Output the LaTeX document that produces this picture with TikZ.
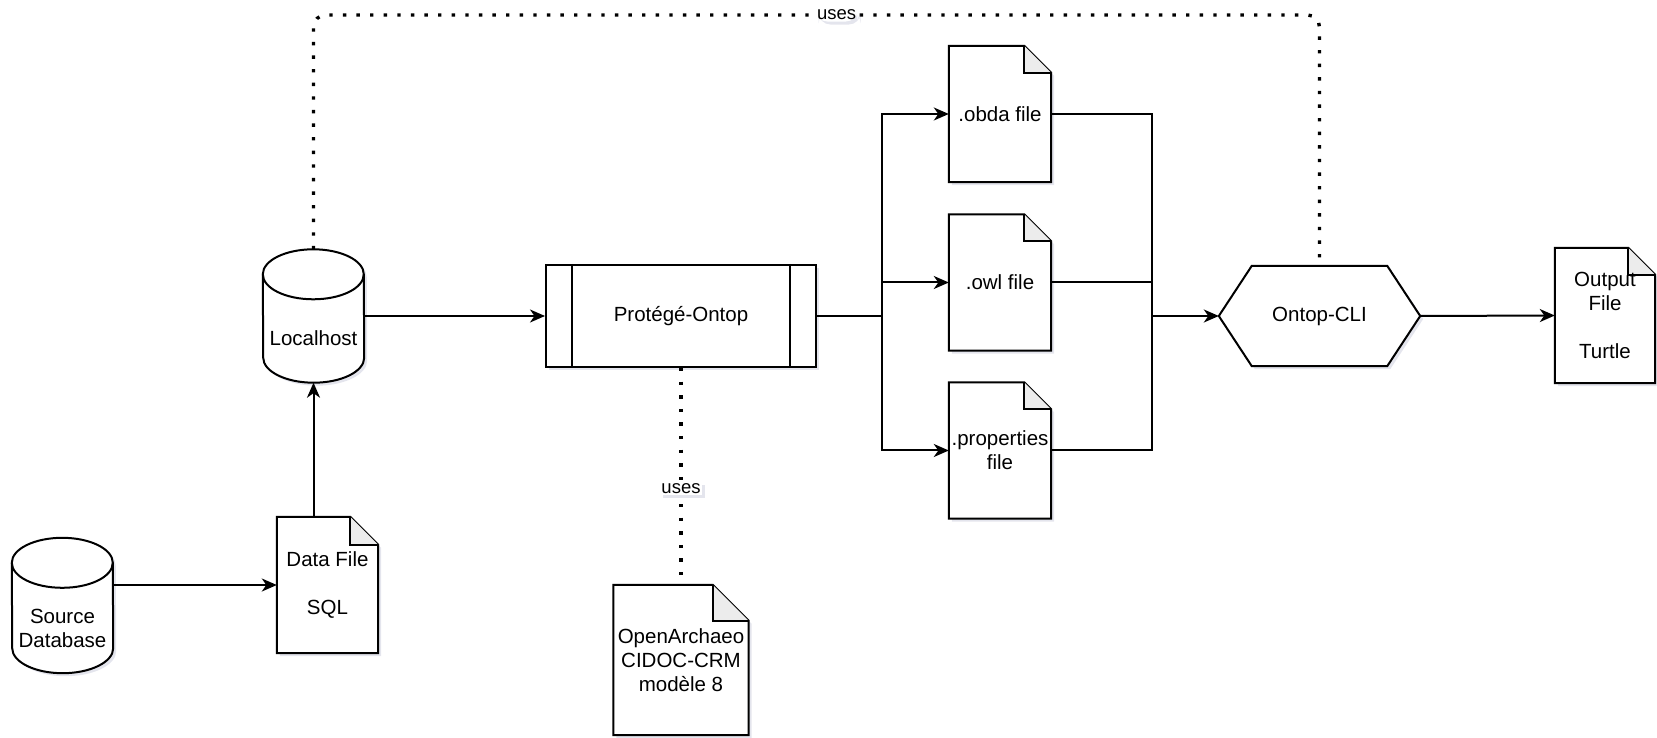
\documentclass[tikz,border=0pt]{standalone}
\usepackage{fontspec}
\setmainfont{Liberation Sans}
\usetikzlibrary{arrows.meta,shadows,backgrounds,calc}
\definecolor{shadowc}{RGB}{120,125,165}
\definecolor{foldc}{RGB}{236,236,236}
\tikzset{
  base/.style={inner sep=0pt, align=center, font=\fontsize{20.5}{24}\selectfont},
  box/.style 2 args={base, minimum width=#1pt, minimum height=#2pt},
  shadowed/.style={drop shadow={shadow xshift=3pt, shadow yshift=-3pt, opacity=0.2, fill=shadowc}},
  line/.style={line width=2pt, line join=miter},
  arr/.style={line, -{Stealth[length=15pt,width=13pt,inset=4.5pt]}},
  dotline/.style={line width=3.4pt, dash pattern=on 3.4pt off 10.2pt},
  lbl/.style={fill=white, inner sep=1.5pt, font=\fontsize{18.5}{21}\selectfont, shadowed},
}
\newcommand\DocShape[2]{%
  \draw[line, fill=white, shadowed] (#1.north west) -- ([xshift=-#2pt]#1.north east) -- ([yshift=-#2pt]#1.north east) -- (#1.south east) -- (#1.south west) -- cycle;
  \draw[line, fill=foldc] ([xshift=-#2pt]#1.north east) -- ([xshift=-#2pt,yshift=-#2pt]#1.north east) -- ([yshift=-#2pt]#1.north east);
}
\newcommand\CylShape[2]{%
  \draw[line, fill=white, shadowed] ([yshift=-25pt]#1.north west) arc[start angle=180,end angle=0,x radius=#2pt,y radius=25pt] -- ([yshift=25pt]#1.south east) arc[start angle=0,end angle=-180,x radius=#2pt,y radius=25pt] -- cycle;
  \draw[line] ([yshift=-25pt]#1.north west) arc[start angle=180,end angle=360,x radius=#2pt,y radius=25pt];
}
\begin{document}
\begin{tikzpicture}[x=1pt,y=1pt]
\useasboundingbox (0,0) rectangle (1657,737);
% nodes
\node[box={101}{135}] (src) at (62.5,131.5) {};
\node[base] (srclabel) at (62.5,109) {Source\\Database};
\node[box={101}{133}] (loc) at (313.5,421) {};
\node[base] (loclabel) at (313.5,399) {Localhost};
\node[box={101}{136}] (df) at (327.5,152) {Data File\\[24pt]SQL};
\node[box={270}{102}, line, draw, fill=white, shadowed] (prot) at (681,421) {Prot\'eg\'e-Ontop};
\draw[line] ([xshift=27pt]prot.north west) -- ([xshift=27pt]prot.south west);
\draw[line] ([xshift=-27pt]prot.north east) -- ([xshift=-27pt]prot.south east);
\node[box={135}{150}] (oa) at (681,77) {OpenArchaeo\\CIDOC-CRM\\mod\`ele 8};
\node[box={102}{136}] (obda) at (1000,623) {.obda file};
\node[box={102}{136}] (owl) at (1000,454.5) {.owl file};
\node[box={102}{136}] (props) at (1000,286.5) {.properties\\file};
\node[box={201}{100}] (cli) at (1319.5,421) {Ontop-CLI};
\node[box={100}{135}] (out) at (1605,421.5) {Output\\File\\[24pt]Turtle};
% shapes on background
\begin{scope}[on background layer]
  \CylShape{src}{50.5}
  \CylShape{loc}{50.5}
  \DocShape{df}{28}
  \DocShape{oa}{36}
  \DocShape{obda}{27}
  \DocShape{owl}{27}
  \DocShape{props}{27}
  \DocShape{out}{27}
  \draw[line, fill=white, shadowed] (cli.west) -- ([xshift=33pt]cli.north west) -- ([xshift=-33pt]cli.north east) -- (cli.east) -- ([xshift=-33pt]cli.south east) -- ([xshift=33pt]cli.south west) -- cycle;
\end{scope}
% coordinates
\coordinate (splitL) at (882,421);
\coordinate (mergeR) at (1152,421);
\coordinate (topY) at (0,722);
% connectors
\draw[arr] (df.west -| src.east) -- (df.west);
\draw[arr] (df.north -| loc.south) -- (loc.south);
\draw[arr] (loc.east) -- (prot.west);
\draw[line] (prot.east) -- (splitL);
\draw[arr] (splitL) |- (obda.west);
\draw[arr] (splitL) -- (owl.west -| splitL) -- (owl.west);
\draw[arr] (splitL) |- (props.west);
\draw[line] (obda.east) -| (mergeR);
\draw[line] (owl.east) -- (owl.east -| mergeR);
\draw[line] (props.east) -| (mergeR);
\draw[arr] (mergeR) -- (cli.west);
\draw[arr] (cli.east) -- (out.west);
\draw[dotline, rounded corners=12pt] (loc.north) -- (loc.north |- topY) -- node[lbl, pos=0.52] {uses} (cli.north |- topY) -- (cli.north);
\draw[dotline] (prot.south) -- node[lbl, pos=0.555] {uses} (oa.north);
\end{tikzpicture}
\end{document}
